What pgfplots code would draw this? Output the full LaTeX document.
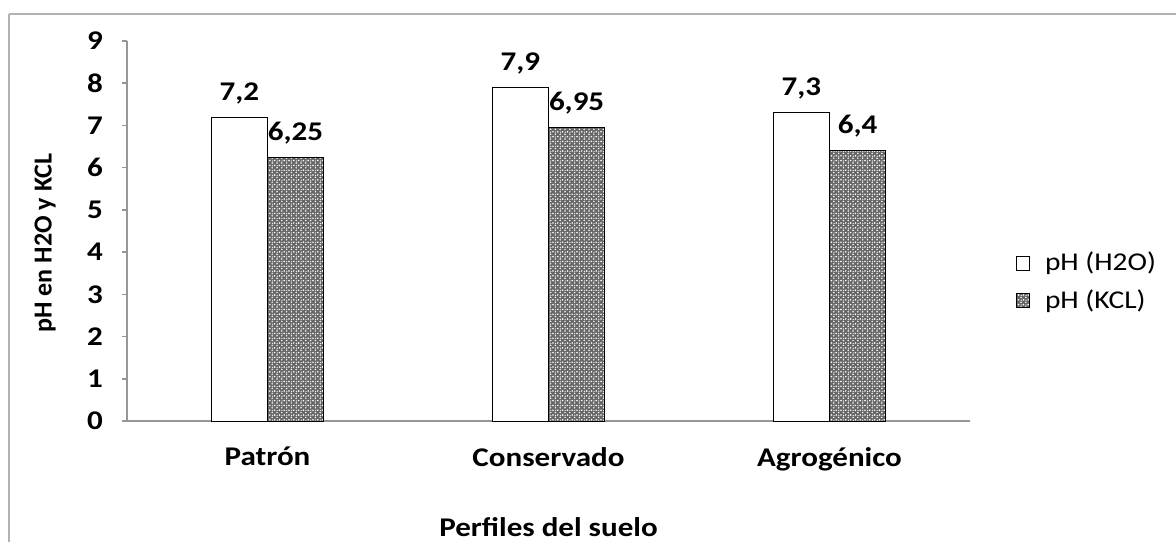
\documentclass[border=0pt]{standalone}
\usepackage{fontspec}
\setmainfont{Carlito}
\newfontfamily\wide[FakeStretch=1.15]{Carlito}
\usepackage{pgfplots}
\pgfplotsset{compat=1.18}
\usetikzlibrary{patterns}

% fine speckle used on the KCL bars
\pgfdeclarepatternformonly{finespeckle}{\pgfqpoint{-0.2pt}{-0.2pt}}{\pgfqpoint{2.6pt}{2.6pt}}{\pgfqpoint{2.4pt}{2.4pt}}{%
  \pgfpathcircle{\pgfqpoint{0.5pt}{0.6pt}}{0.45pt}
  \pgfpathcircle{\pgfqpoint{1.7pt}{1.8pt}}{0.42pt}
  \pgfpathcircle{\pgfqpoint{1.8pt}{0.4pt}}{0.32pt}
  \pgfusepath{fill}}

\definecolor{axisgray}{RGB}{150,150,150}

\pgfplotstableread{
x y lab
1 7.2 {7,2}
2 7.9 {7,9}
3 7.3 {7,3}
}\water
\pgfplotstableread{
x y lab
1 6.25 {6,25}
2 6.95 {6,95}
3 6.4 {6,4}
}\kcl

\begin{document}
\begin{tikzpicture}
\path[use as bounding box] (0pt,0pt) rectangle (588pt,270.5pt);
\draw[gray!60,line width=1.2pt] (4.5pt,263.5pt) -- (595pt,263.5pt) (4.5pt,263.5pt) -- (4.5pt,-5pt);
\begin{axis}[
  at={(63.5pt,60pt)}, anchor=south west,
  scale only axis, width=421.5pt, height=190pt,
  xmin=0.5, xmax=3.5, ymin=0, ymax=9,
  ytick={0,...,9},
  xtick={1,2,3},
  xticklabels={Patr\'on,Conservado,Agrog\'enico},
  extra x ticks={0.5,1.5,2.5,3.5},
  extra x tick labels={},
  extra x tick style={major tick length=3pt, tick style={axisgray, line width=0.8pt}},
  axis x line*=bottom, axis y line*=left,
  axis line style={axisgray, line width=0.8pt},
  x axis line style={-}, y axis line style={-},
  tick align=outside,
  major tick length=2.5pt,
  xtick style={draw=none},
  ytick style={axisgray, line width=0.8pt},
  tick label style={font=\wide\fontsize{13.5}{15}\selectfont\bfseries},
  /pgf/number format/assume math mode=true,
  yticklabel style={xshift=-6pt},
  xticklabel style={yshift=-7pt},
  xlabel={Perfiles del suelo},
  ylabel={pH en H2O y KCL},
  xlabel style={font=\wide\fontsize{13.5}{15}\selectfont\bfseries,
    at={(axis description cs:0.5,-0.28)}, anchor=center},
  ylabel style={font=\fontsize{13}{15}\selectfont\bfseries,
    at={(axis description cs:-0.097,0.468)}, anchor=center},
  ybar, bar width=0.2,
  nodes near coords,
  point meta=explicit symbolic,
  every node near coord/.append style={font=\wide\fontsize{13.5}{15}\selectfont\bfseries, yshift=3pt},
  legend style={at={(axis description cs:1.047,0.366)}, anchor=west, draw=none,
    fill=none, font=\wide\fontsize{12.8}{15}\selectfont, row sep=6pt,
    nodes={inner sep=1pt, xshift=6pt}},
  legend cell align=left,
  legend image code/.code={%
    \draw[#1,line width=0.5pt] (0pt,-3.5pt) rectangle (6.5pt,3.5pt);
    \path[draw=none,fill=none,pattern=none] (13pt,0pt) circle (0pt);},
  clip=false,
]
\addplot[bar shift=-0.1, draw=black, line width=0.5pt, fill=white]
  table[x=x, y=y, meta=lab] {\water};
\addlegendentry{pH (H2O)}
\addplot[bar shift=0.1, draw=black, line width=0.5pt, fill=black!60,
  postaction={pattern=finespeckle, pattern color=white}]
  table[x=x, y=y, meta=lab] {\kcl};
\addlegendentry{pH (KCL)}
\end{axis}
\end{tikzpicture}
\end{document}
